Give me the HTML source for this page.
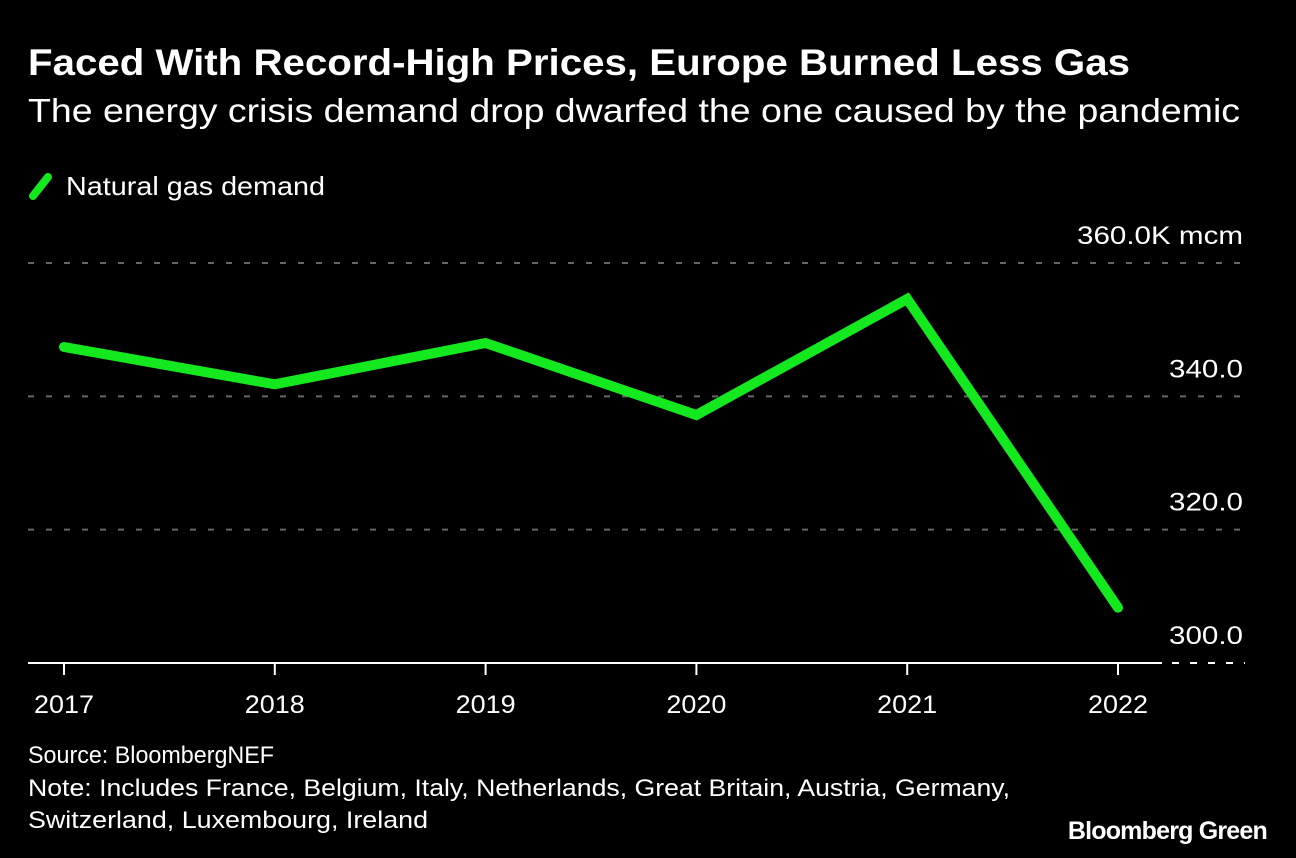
<!DOCTYPE html>
<html><head><meta charset="utf-8"><style>
body{margin:0;background:#000;width:1296px;height:858px;overflow:hidden;font-family:"Liberation Sans",sans-serif;color:#fff}
</style></head><body>
<svg width="1296" height="858" style="position:absolute;left:0;top:0">
<text x="28" y="75" font-size="37" font-weight="bold" fill="#fff" textLength="1102" lengthAdjust="spacingAndGlyphs">Faced With Record-High Prices, Europe Burned Less Gas</text>
<text x="28" y="122" font-size="33" fill="#fff" textLength="1212" lengthAdjust="spacingAndGlyphs">The energy crisis demand drop dwarfed the one caused by the pandemic</text>
<g>
<line x1="33" y1="196" x2="48" y2="177" stroke="#14e81e" stroke-width="8" stroke-linecap="round"/>
<text x="66" y="195" font-size="26" fill="#fff" textLength="259" lengthAdjust="spacingAndGlyphs">Natural gas demand</text>
</g>
<g id="grid"></g><g id="xaxis"></g><g id="series"></g>
<text x="28" y="763" font-size="24" fill="#fff" textLength="246" lengthAdjust="spacingAndGlyphs">Source: BloombergNEF</text>
<text x="28" y="796" font-size="24" fill="#fff" textLength="982" lengthAdjust="spacingAndGlyphs">Note: Includes France, Belgium, Italy, Netherlands, Great Britain, Austria, Germany,</text>
<text x="28" y="828" font-size="24" fill="#fff" textLength="400" lengthAdjust="spacingAndGlyphs">Switzerland, Luxembourg, Ireland</text>
<text x="1267" y="839" font-size="25" font-weight="bold" fill="#fff" text-anchor="end" letter-spacing="-0.8">Bloomberg Green</text>
</svg>
<script>
const years=["2017","2018","2019","2020","2021","2022"];
const demand=[347.4,341.8,348.0,337.2,354.6,308.3];
const yTicks=[300,320,340,360];
const yTickLabels=["300.0","320.0","340.0","360.0K mcm"];
const NS="http://www.w3.org/2000/svg";
const x=i=>64+i*210.8;
const y=v=>663-(v-300)*(400/60);
function mk(t,a,p){const e=document.createElementNS(NS,t);for(const k in a)e.setAttribute(k,a[k]);p.appendChild(e);return e;}
const grid=document.getElementById('grid');
yTicks.forEach((v,i)=>{
 if(v!==300){const l=mk('line',{x1:28,x2:1245,y1:y(v),y2:y(v),stroke:'#666','stroke-width':2,'stroke-dasharray':'6 12'},grid);
 
 }
 const lab=yTickLabels[i];
 const t=mk('text',{x:1243,y:y(v)-19,'font-size':25,fill:'#fff','text-anchor':'end',textLength:lab.length>6?166:74,lengthAdjust:'spacingAndGlyphs'},grid);
 t.textContent=lab;
 
 
});
const xa=document.getElementById('xaxis');
const base=mk('line',{x1:28,x2:1162,y1:663,y2:663,stroke:'#fff','stroke-width':2},xa);


const bd=mk('line',{x1:1172,x2:1245,y1:663,y2:663,stroke:'#fff','stroke-width':2,'stroke-dasharray':'7 11'},xa);


years.forEach((yr,i)=>{
 const tk=mk('line',{x1:x(i),x2:x(i),y1:663,y2:675,stroke:'#fff','stroke-width':2},xa);
 
 
 const t=mk('text',{x:x(i),y:713,'font-size':25,fill:'#fff','text-anchor':'middle',textLength:60,lengthAdjust:'spacingAndGlyphs'},xa);
 t.textContent=yr;
 
 
});
const pl=mk('polyline',{points:demand.map((v,i)=>x(i)+','+y(v)).join(' '),fill:'none',stroke:'#14e81e','stroke-width':10,'stroke-linecap':'round','stroke-linejoin':'miter'},document.getElementById('series'));


</script>
</body></html>
